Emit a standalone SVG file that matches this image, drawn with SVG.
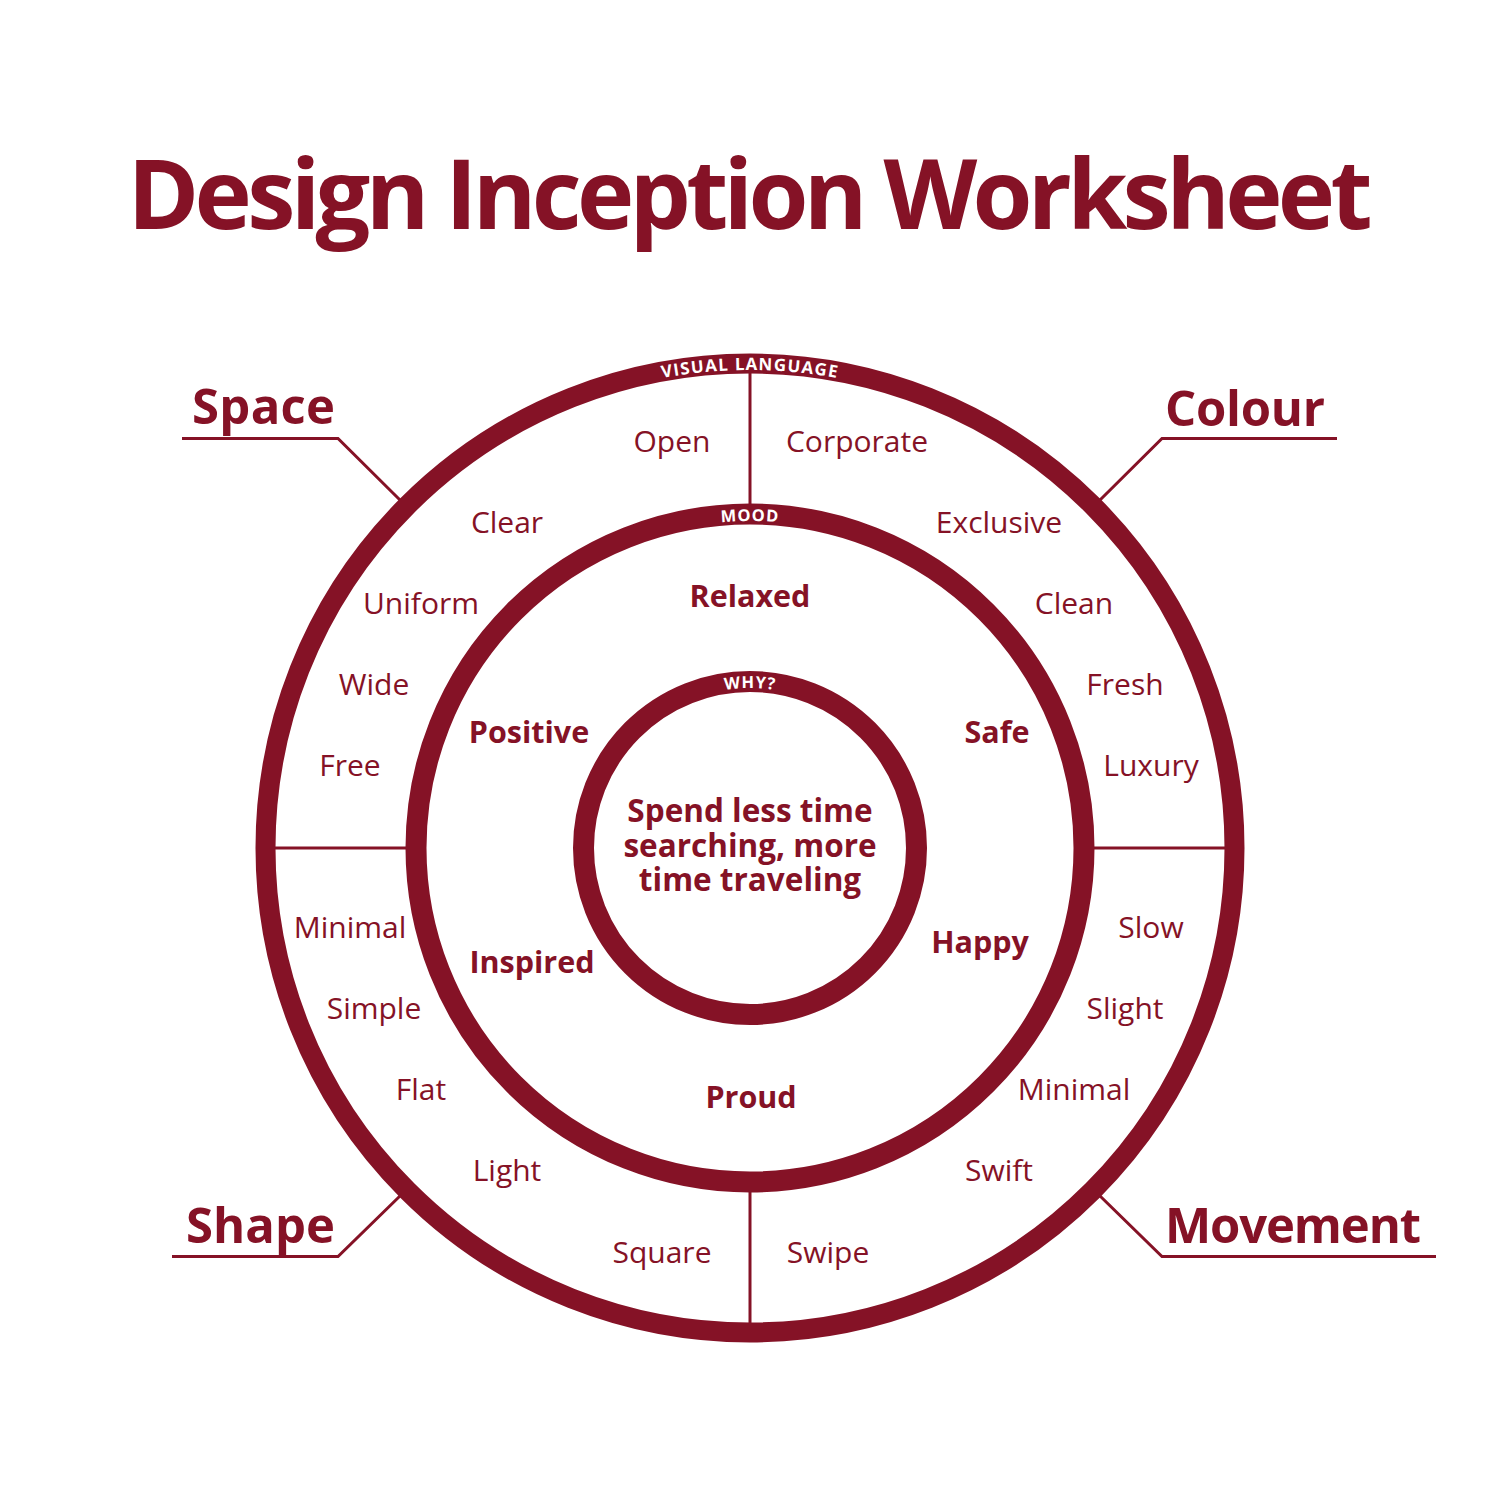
<svg xmlns="http://www.w3.org/2000/svg" width="1500" height="1500" viewBox="0 0 1500 1500">
<defs>
<style>
.ring{fill:none;stroke:#851226;}
.ln{stroke:#851226;stroke-width:3;fill:none;}
.div{stroke:#851226;stroke-width:3;}
.w{font-family:"Open Sans","Liberation Sans",sans-serif;font-size:30px;fill:#851226;text-anchor:middle;}
.b{font-family:"Open Sans","Liberation Sans",sans-serif;font-size:30.5px;font-weight:bold;fill:#851226;text-anchor:middle;}
.c{font-family:"Open Sans","Liberation Sans",sans-serif;font-size:31.5px;font-weight:bold;fill:#851226;text-anchor:middle;}
.h{font-family:"Open Sans","Liberation Sans",sans-serif;font-size:49px;font-weight:bold;fill:#851226;}
.t{font-family:"Open Sans","Liberation Sans",sans-serif;font-size:97px;font-weight:bold;fill:#851226;}
.arc{font-family:"Open Sans","Liberation Sans",sans-serif;font-weight:bold;fill:#ffffff;text-anchor:middle;}
</style>
<path id="p1" d="M 272,848 A 478 478 0 0 1 1228,848"/>
<path id="p2" d="M 423,848 A 327 327 0 0 1 1077,848"/>
<path id="p3" d="M 590,848 A 160 160 0 0 1 910,848"/>
</defs>
<rect width="1500" height="1500" fill="#ffffff"/>
<text class="t" x="750" y="229" text-anchor="middle" textLength="1245">Design Inception Worksheet</text>

<g id="connectors">
<line class="div" x1="750" y1="372" x2="750" y2="516"/>
<line class="div" x1="750" y1="1180" x2="750" y2="1324"/>
<line class="div" x1="275" y1="848" x2="416" y2="848"/>
<line class="div" x1="1084" y1="848" x2="1225" y2="848"/>
<polyline class="ln" points="182,438.5 338,438.5 401,501"/>
<polyline class="ln" points="1337,438.5 1162,438.5 1099,501"/>
<polyline class="ln" points="172,1256.5 338,1256.5 401,1195"/>
<polyline class="ln" points="1436,1256.5 1162,1256.5 1099,1195"/>
</g>

<g id="ring-outer">
<circle class="ring" cx="750" cy="848" r="484.5" stroke-width="20"/>
<text class="arc" font-size="17" letter-spacing="1.2"><textPath href="#p1" startOffset="50%">VISUAL LANGUAGE</textPath></text>
</g>
<g id="ring-mood">
<circle class="ring" cx="750" cy="848" r="334" stroke-width="21"/>
<text class="arc" font-size="16.5" letter-spacing="1"><textPath href="#p2" startOffset="50%">MOOD</textPath></text>
</g>
<g id="ring-why">
<circle class="ring" cx="750" cy="848" r="166.5" stroke-width="21"/>
<text class="arc" font-size="16.5" letter-spacing="1"><textPath href="#p3" startOffset="50%">WHY?</textPath></text>
</g>

<g id="center-text">
<text class="c" x="750" y="822">Spend less time</text>
<text class="c" x="750" y="857">searching, more</text>
<text class="c" x="750" y="891">time traveling</text>
</g>

<g id="mood">
<text class="b" x="750" y="607">Relaxed</text>
<text class="b" x="529" y="743">Positive</text>
<text class="b" x="997" y="743">Safe</text>
<text class="b" x="532" y="973">Inspired</text>
<text class="b" x="980" y="953">Happy</text>
<text class="b" x="751" y="1108">Proud</text>
</g>

<g id="space">
<text class="h" x="192" y="424" textLength="143">Space</text>
<text class="w" x="672" y="452">Open</text>
<text class="w" x="507" y="533">Clear</text>
<text class="w" x="421" y="614">Uniform</text>
<text class="w" x="374" y="695">Wide</text>
<text class="w" x="350" y="776">Free</text>
</g>
<g id="colour">
<text class="h" x="1165" y="426" textLength="160">Colour</text>
<text class="w" x="857" y="452">Corporate</text>
<text class="w" x="999" y="533">Exclusive</text>
<text class="w" x="1074" y="614">Clean</text>
<text class="w" x="1125" y="695">Fresh</text>
<text class="w" x="1151" y="776">Luxury</text>
</g>
<g id="shape">
<text class="h" x="186" y="1243" textLength="149">Shape</text>
<text class="w" x="350" y="938">Minimal</text>
<text class="w" x="374" y="1019">Simple</text>
<text class="w" x="421" y="1100">Flat</text>
<text class="w" x="507" y="1181">Light</text>
<text class="w" x="662" y="1263">Square</text>
</g>
<g id="movement">
<text class="h" x="1165" y="1243" textLength="256">Movement</text>
<text class="w" x="1151" y="938">Slow</text>
<text class="w" x="1125" y="1019">Slight</text>
<text class="w" x="1074" y="1100">Minimal</text>
<text class="w" x="999" y="1181">Swift</text>
<text class="w" x="828" y="1263">Swipe</text>
</g>
</svg>
